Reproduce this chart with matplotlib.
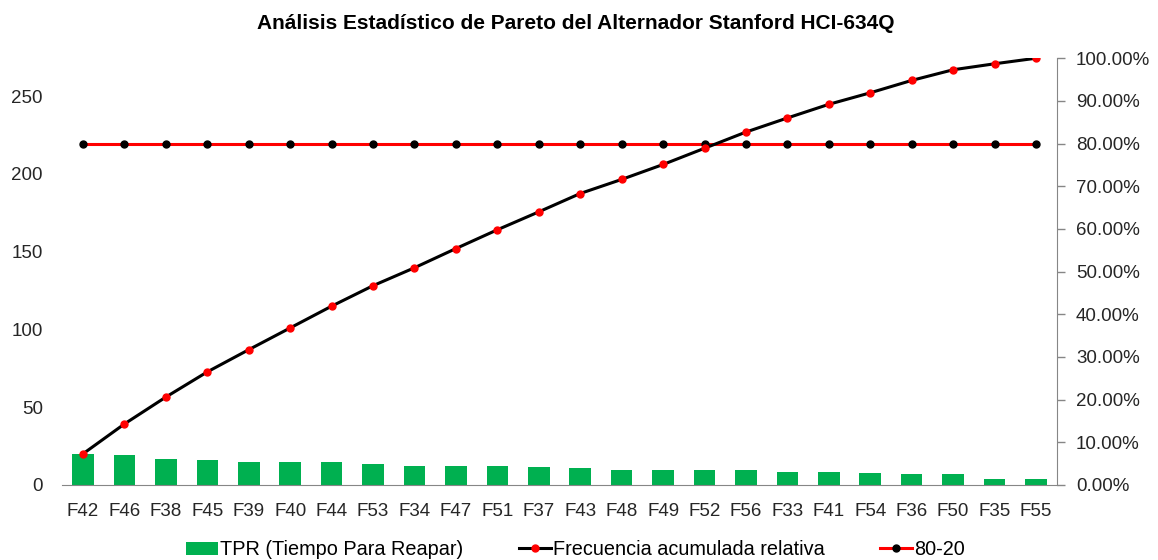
import numpy as np
import matplotlib.pyplot as plt
from matplotlib.ticker import FuncFormatter

plt.rcParams['font.family'] = ['Liberation Sans', 'DejaVu Sans']

# Data
codes = ['F42', 'F46', 'F38', 'F45', 'F39', 'F40', 'F44', 'F53', 'F34', 'F47', 'F51', 'F37',
         'F43', 'F48', 'F49', 'F52', 'F56', 'F33', 'F41', 'F54', 'F36', 'F50', 'F35', 'F55']
tpr = [20, 19, 17, 16.3, 14.5, 14.5, 14.5, 13.4, 12.5, 12.5, 12.5, 11.4,
       10.6, 9.7, 9.7, 9.7, 9.7, 8.6, 8.6, 7.8, 6.9, 6.9, 4, 4]
cum_pct = [7.3, 14.3, 20.6, 26.5, 31.7, 36.8, 41.9, 46.7, 50.9, 55.4, 59.8, 64.0,
           68.3, 71.6, 75.1, 78.9, 82.7, 86.0, 89.2, 91.9, 94.8, 97.3, 98.7, 100.0]
limit_pct = [80] * len(codes)

green = '#00B050'
grey = '#868686'

fig = plt.figure(figsize=(11.58, 5.6), dpi=100)
ax1 = fig.add_axes([0.0538, 0.134, 0.8587, 0.762])
ax2 = ax1.twinx()

x = np.arange(len(codes))
bars = ax1.bar(x, tpr, width=0.52, color=green, zorder=2)
ax1.set_xlim(-0.5, len(codes) - 0.5)
ax1.set_ylim(0, sum(tpr))
ax1.set_yticks([0, 50, 100, 150, 200, 250])
ax1.set_xticks(x)
ax1.set_xticklabels(codes)
ax1.tick_params(axis='y', length=0, pad=14, labelsize=13.5, colors='#262626')
ax1.tick_params(axis='x', length=0, pad=13, labelsize=13.5, colors='#262626')

ax2.set_ylim(0, 100)
ax2.set_yticks(np.arange(0, 101, 10))
ax2.yaxis.set_major_formatter(FuncFormatter(lambda v, p: f'{v:.2f}%'))
ax2.tick_params(axis='y', length=6, width=1, color=grey, pad=8, labelsize=13.5,
                colors='#262626')

l80, = ax2.plot(x, limit_pct, color='#FF0000', lw=2.2, marker='o', ms=5,
                mfc='black', mec='black', zorder=3)
lcum, = ax2.plot(x, cum_pct, color='black', lw=2.2, marker='o', ms=5,
                 mfc='#FF0000', mec='#FF0000', zorder=4)

for ax in (ax1, ax2):
    for side in ('top', 'left', 'right', 'bottom'):
        ax.spines[side].set_visible(False)
ax1.spines['bottom'].set_visible(True)
ax1.spines['bottom'].set_color(grey)
ax2.spines['right'].set_visible(True)
ax2.spines['right'].set_color(grey)

fig.suptitle('Análisis Estadístico de Pareto del Alternador Stanford HCI-634Q',
             x=0.497, y=0.975, fontsize=15, fontweight='bold')

fig.legend([bars, lcum, l80],
           ['TPR (Tiempo Para Reapar)', 'Frecuencia acumulada relativa', '80-20'],
           loc='center', bbox_to_anchor=(0.497, 0.018), ncol=3, frameon=False,
           fontsize=14.3, handlelength=1.6, handletextpad=0.1, columnspacing=2.8,
           numpoints=1)

fig.savefig('out.png', dpi=100)
